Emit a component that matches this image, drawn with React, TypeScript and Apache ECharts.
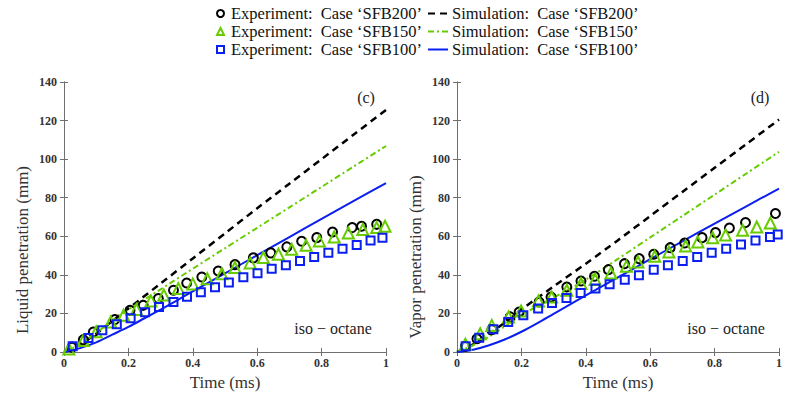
import React, { useEffect, useRef } from 'react';
import * as echarts from 'echarts';

const FONT = '"Liberation Serif", "Times New Roman", serif';

// Names
const EXP200 = 'Experiment:  Case ‘SFB200’';
const EXP150 = 'Experiment:  Case ‘SFB150’';
const EXP100 = 'Experiment:  Case ‘SFB100’';
const SIM200 = 'Simulation:  Case ‘SFB200’';
const SIM150 = 'Simulation:  Case ‘SFB150’';
const SIM100 = 'Simulation:  Case ‘SFB100’';

// Axis ticks
const xTicks = { min: 0, max: 1, interval: 0.2 };
const yTicks = { min: 0, max: 140, interval: 20 };

// ---- Liquid penetration (c) ----
const liqSimT = [0, 0.05, 0.1, 0.15, 0.2, 0.3, 0.4, 0.5, 0.6, 0.7, 0.8, 0.9, 1];
const liqSim200V = [0, 4, 9.5, 16, 22.5, 35.5, 48.5, 61.5, 74.5, 87.3, 100, 112.8, 125.5];
const liqSim150V = [0, 4, 10, 16, 22, 32.5, 43.2, 53.8, 64.4, 75, 85.6, 96.2, 106.8];
const liqSim100T = [0, 0.05, 0.1, 0.15, 0.2, 0.25, 0.3, 0.35, 0.4, 0.5, 0.6, 0.7, 0.8, 0.9, 1];
const liqSim100V = [0, 2, 5, 9, 13, 17.5, 22, 26.7, 31.4, 40.8, 50.2, 59.6, 69, 78.3, 87.6];

const liqExp200T = [0.025, 0.06, 0.091, 0.158, 0.205, 0.246, 0.293, 0.34, 0.381, 0.428, 0.479, 0.531, 0.588, 0.642, 0.692, 0.738, 0.785, 0.834, 0.895, 0.924, 0.971];
const liqExp200V = [2.5, 6.4, 10.4, 16.8, 21.6, 24.2, 27.7, 32.0, 35.8, 38.9, 42.0, 45.3, 48.8, 51.4, 54.5, 57.4, 59.3, 62.2, 64.5, 65.2, 66.2];
const liqExp150T = [0.015, 0.06, 0.1, 0.145, 0.185, 0.225, 0.27, 0.31, 0.355, 0.4, 0.445, 0.49, 0.531, 0.578, 0.619, 0.666, 0.707, 0.752, 0.793, 0.839, 0.883, 0.928, 0.971, 0.997];
const liqExp150V = [1.5, 6, 10.5, 15.6, 19, 22.1, 26.5, 29.5, 32.9, 35.3, 38, 40.6, 43.8, 46.2, 49.0, 50.7, 53.3, 55.3, 57.6, 59.6, 61.7, 63.5, 64.5, 65.2];
const liqExp100T = [0.027, 0.076, 0.119, 0.164, 0.207, 0.252, 0.295, 0.34, 0.382, 0.425, 0.469, 0.512, 0.557, 0.601, 0.645, 0.689, 0.733, 0.777, 0.821, 0.865, 0.909, 0.952, 0.989];
const liqExp100V = [3.0, 7.3, 11.3, 14.4, 17.5, 20.6, 23.3, 25.9, 28.6, 31.0, 33.6, 36.0, 38.7, 40.8, 43.2, 45.0, 47.2, 49.3, 51.4, 53.6, 55.5, 57.8, 59.3];

// ---- Vapor penetration (d) ----
const vapSimT = [0, 0.05, 0.1, 0.15, 0.2, 0.3, 0.4, 0.5, 0.6, 0.7, 0.8, 0.9, 1];
const vapSim200V = [0, 4, 9.5, 15.5, 22, 34, 45.8, 58, 70.5, 83, 95.5, 108, 120.5];
const vapSim150V = [0, 3.5, 8, 13.5, 19.2, 28.2, 37.5, 48.3, 59.4, 70.5, 81.6, 92.7, 103.8];
const vapSim100T = [0, 0.05, 0.1, 0.15, 0.2, 0.25, 0.3, 0.4, 0.5, 0.6, 0.7, 0.8, 0.9, 1];
const vapSim100V = [0, 1.2, 3.5, 6.6, 10.5, 15, 19.8, 29.3, 38.7, 48.1, 57.4, 66.6, 75.7, 84.7];

const vapExp200T = [0.026, 0.062, 0.108, 0.165, 0.193, 0.255, 0.292, 0.341, 0.385, 0.427, 0.47, 0.52, 0.566, 0.611, 0.662, 0.707, 0.761, 0.803, 0.846, 0.896, 0.989];
const vapExp200V = [3.0, 6.9, 11.6, 18.2, 20.7, 25.9, 28.5, 33.7, 36.8, 39.3, 42.7, 45.8, 48.4, 50.7, 54.1, 56.5, 59.3, 61.9, 64.3, 67.1, 71.8];
const vapExp150T = [0.026, 0.072, 0.108, 0.16, 0.199, 0.253, 0.294, 0.341, 0.385, 0.429, 0.478, 0.526, 0.562, 0.614, 0.658, 0.71, 0.748, 0.794, 0.834, 0.887, 0.931, 0.973];
const vapExp150V = [4.0, 9.5, 13.8, 18.2, 21.3, 26.5, 28.5, 32.0, 35.5, 37.6, 41.0, 44.4, 46.7, 49.6, 51.9, 55.0, 57.1, 59.3, 60.7, 63.1, 64.8, 66.9];
const vapExp100T = [0.027, 0.069, 0.113, 0.159, 0.206, 0.252, 0.295, 0.34, 0.384, 0.43, 0.474, 0.521, 0.565, 0.611, 0.655, 0.701, 0.746, 0.791, 0.836, 0.882, 0.927, 0.972, 0.996];
const vapExp100V = [3.0, 7.4, 11.8, 15.6, 19.0, 22.5, 25.4, 28.0, 30.6, 32.9, 35.1, 37.5, 39.8, 42.7, 45.0, 47.2, 49.3, 51.4, 53.6, 55.7, 57.8, 59.6, 60.9];

const BLACK = '#000000';
const GREEN = '#66cc00';
const BLUE = '#0a1ff0';
const AXIS = '#6f6f6f';

const pairs = (t: number[], v: number[]) => t.map((x, i) => [x, v[i]]);

function simSeries(name: string, idx: number, t: number[], v: number[], color: string, type: any, width: number) {
  return {
    type: 'line', name, xAxisIndex: idx, yAxisIndex: idx, data: pairs(t, v),
    showSymbol: false, symbol: 'none', smooth: 0.3, z: 2,
    lineStyle: { color, width, type },
    itemStyle: { color },
  };
}
function expSeries(name: string, idx: number, t: number[], v: number[], color: string, symbol: string, size: number) {
  return {
    type: 'scatter', name, xAxisIndex: idx, yAxisIndex: idx, data: pairs(t, v),
    symbol, symbolSize: size, z: 3,
    itemStyle: { color: 'rgba(255,255,255,0)', borderColor: color, borderWidth: 2, opacity: 1 },
  };
}

function xAxisMain(gridIndex: number) {
  return {
    gridIndex, type: 'value', ...xTicks, name: 'Time (ms)', nameLocation: 'middle', nameGap: 21,
    nameTextStyle: { fontFamily: FONT, fontSize: 17, color: '#333' },
    axisLine: { show: true, lineStyle: { color: AXIS, width: 1 } },
    axisTick: { show: true, inside: true, length: 4, lineStyle: { color: AXIS } },
    axisLabel: { fontFamily: FONT, fontWeight: 'bold', fontSize: 12, color: '#333', margin: 5 },
    splitLine: { show: false },
  };
}
function xAxisTop(gridIndex: number) {
  return {
    gridIndex, type: 'value', ...xTicks, position: 'top',
    axisLine: { show: true, lineStyle: { color: AXIS, width: 1 } },
    axisTick: { show: true, inside: true, length: 4, lineStyle: { color: AXIS } },
    axisLabel: { show: false }, splitLine: { show: false },
  };
}
function yAxisMain(gridIndex: number) {
  return {
    gridIndex, type: 'value', ...yTicks,
    axisLine: { show: true, lineStyle: { color: AXIS, width: 1 } },
    axisTick: { show: true, inside: true, length: 4, lineStyle: { color: AXIS } },
    axisLabel: { fontFamily: FONT, fontWeight: 'bold', fontSize: 12, color: '#333', margin: 7 },
    splitLine: { show: false },
  };
}
function yAxisRight(gridIndex: number) {
  return {
    gridIndex, type: 'value', ...yTicks, position: 'right',
    axisLine: { show: true, lineStyle: { color: AXIS, width: 1 } },
    axisTick: { show: true, inside: true, length: 4, lineStyle: { color: AXIS } },
    axisLabel: { show: false }, splitLine: { show: false },
  };
}

const legendText = { fontFamily: FONT, fontSize: 16.5, color: '#111' };

const option: any = {
  animation: false,
  backgroundColor: '#ffffff',
  grid: [
    { left: 64, top: 82, width: 322, height: 270 },
    { left: 457, top: 82, width: 322, height: 270 },
  ],
  legend: [
    {
      orient: 'vertical', left: 211, top: 0, itemWidth: 7, itemHeight: 7, itemGap: 1,
      data: [EXP200, EXP150, EXP100],
      textStyle: { ...legendText, padding: [0, 0, 0, 2] },
      selectedMode: false,
    },
    {
      orient: 'vertical', left: 422, top: 0, itemWidth: 20, itemHeight: 10, itemGap: 1,
      data: [SIM200, SIM150, SIM100],
      itemStyle: { color: 'rgba(0,0,0,0)', borderWidth: 0, opacity: 0 },
      textStyle: { ...legendText, padding: [0, 0, 0, -1] },
      selectedMode: false,
    },
  ],
  xAxis: [xAxisMain(0), xAxisMain(1), xAxisTop(0), xAxisTop(1)],
  yAxis: [yAxisMain(0), yAxisMain(1), yAxisRight(0), yAxisRight(1)],
  graphic: [
    { type: 'text', x: 22, y: 250, rotation: Math.PI / 2, style: { text: 'Liquid penetration (mm)', fontFamily: FONT, fontSize: 17, fill: '#333', align: 'center', verticalAlign: 'middle' } },
    { type: 'text', x: 415, y: 257, rotation: Math.PI / 2, style: { text: 'Vapor penetration (mm)', fontFamily: FONT, fontSize: 17, fill: '#333', align: 'center', verticalAlign: 'middle' } },
    { type: 'text', x: 366, y: 97, style: { text: '(c)', fontFamily: FONT, fontSize: 16, fill: '#222', align: 'center', verticalAlign: 'middle' } },
    { type: 'text', x: 760, y: 97, style: { text: '(d)', fontFamily: FONT, fontSize: 16, fill: '#222', align: 'center', verticalAlign: 'middle' } },
    { type: 'text', x: 333, y: 328, style: { text: 'iso − octane', fontFamily: FONT, fontSize: 16, fill: '#222', align: 'center', verticalAlign: 'middle' } },
    { type: 'text', x: 726, y: 328, style: { text: 'iso − octane', fontFamily: FONT, fontSize: 16, fill: '#222', align: 'center', verticalAlign: 'middle' } },
  ],
  series: [
    simSeries(SIM200, 0, liqSimT, liqSim200V, BLACK, [7, 5], 2.5),
    simSeries(SIM150, 0, liqSimT, liqSim150V, GREEN, [6, 3, 2, 3], 2),
    simSeries(SIM100, 0, liqSim100T, liqSim100V, BLUE, 'solid', 2),
    expSeries(EXP200, 0, liqExp200T, liqExp200V, BLACK, 'circle', 9),
    expSeries(EXP150, 0, liqExp150T, liqExp150V, GREEN, 'triangle', 11),
    expSeries(EXP100, 0, liqExp100T, liqExp100V, BLUE, 'rect', 8),
    simSeries(SIM200, 1, vapSimT, vapSim200V, BLACK, [7, 5], 2.5),
    simSeries(SIM150, 1, vapSimT, vapSim150V, GREEN, [6, 3, 2, 3], 2),
    simSeries(SIM100, 1, vapSim100T, vapSim100V, BLUE, 'solid', 2),
    expSeries(EXP200, 1, vapExp200T, vapExp200V, BLACK, 'circle', 9),
    expSeries(EXP150, 1, vapExp150T, vapExp150V, GREEN, 'triangle', 11),
    expSeries(EXP100, 1, vapExp100T, vapExp100V, BLUE, 'rect', 8),
  ],
};

export default function App() {
  const ref = useRef<HTMLDivElement>(null);
  useEffect(() => {
    const chart = echarts.init(ref.current as HTMLDivElement, null, { renderer: 'svg' });
    chart.setOption(option);
    return () => chart.dispose();
  }, []);
  return <div ref={ref} style={{ position: 'absolute', left: 0, top: 0, width: 786, height: 396 }} />;
}
